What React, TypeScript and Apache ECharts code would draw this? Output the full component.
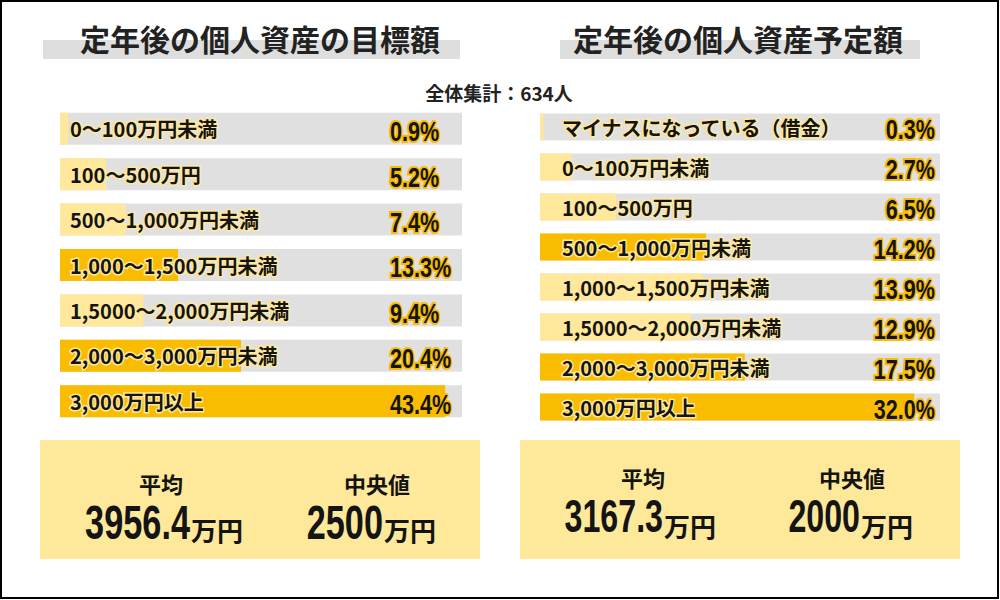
import React, { useEffect, useRef } from "react";
import * as echarts from "echarts";

const leftTitle = "定年後の個人資産の目標額";
const rightTitle = "定年後の個人資産予定額";
const totalLabel = "全体集計：634人";

const leftCategories = [
  "0～100万円未満",
  "100～500万円",
  "500～1,000万円未満",
  "1,000～1,500万円未満",
  "1,5000～2,000万円未満",
  "2,000～3,000万円未満",
  "3,000万円以上",
];
const leftValues = [0.9, 5.2, 7.4, 13.3, 9.4, 20.4, 43.4];

const rightCategories = [
  "マイナスになっている（借金）",
  "0～100万円未満",
  "100～500万円",
  "500～1,000万円未満",
  "1,000～1,500万円未満",
  "1,5000～2,000万円未満",
  "2,000～3,000万円未満",
  "3,000万円以上",
];
const rightValues = [0.3, 2.7, 6.5, 14.2, 13.9, 12.9, 17.5, 32.0];

const summaryLabels = ["平均", "中央値"];
const leftSummary = ["3956.4", "2500"];
const rightSummary = ["3167.3", "2000"];
const unitLabel = "万円";

const DARK = "#F9BC00";
const LIGHT = "#FFE89C";
const GRAY = "#E0E0E0";
const BOX = "#FEE99A";
const INK = "#141414";
const CJK = "'Noto Sans CJK JP', 'Noto Sans', sans-serif";
const NUMF = "'Liberation Sans', Arial, sans-serif";

function colorize(values: number[]) {
  const sorted = [...values].sort((a, b) => b - a);
  const threshold = sorted[2];
  return values.map((v) => ({
    value: v,
    itemStyle: { color: v >= threshold ? DARK : LIGHT },
  }));
}

function bigNumber(x: number, y: number, num: string, size: number, sx: number) {
  return {
    type: "text",
    x,
    y,
    scaleX: sx,
    style: {
      text: num,
      align: "right",
      verticalAlign: "middle",
      font: `bold ${size}px ${NUMF}`,
      fill: INK,
    },
  };
}

export default function App() {
  const ref = useRef<HTMLDivElement>(null);
  useEffect(() => {
    document.body.style.margin = "0";
    if (!ref.current) return;
    const chart = echarts.init(ref.current, null, { renderer: "svg" });

    const makeYAxis = (gridIndex: number, data: string[], margin: number) => ({
      type: "category",
      gridIndex,
      data,
      inverse: true,
      z: 10,
      axisLine: { show: false },
      axisTick: { show: false },
      axisLabel: {
        inside: true,
        margin,
        align: "left",
        fontSize: 20,
        fontWeight: "bold",
        fontFamily: CJK,
        color: INK,
        textBorderColor: LIGHT,
        textBorderWidth: 3,
      },
    });

    const pctSeries = (idx: number, values: number[], dx: number, align: string) => ({
      type: "custom",
      xAxisIndex: idx,
      yAxisIndex: idx,
      z: 5,
      encode: { x: 0, y: 1 },
      data: values.map((v, i) => [v, i]),
      renderItem: (params: any, api: any) => {
        const pt = api.coord([0, api.value(1)]);
        const txt = `${Number(api.value(0)).toFixed(1)}%`;
        const base = {
          text: txt,
          align,
          verticalAlign: "middle",
          font: `bold 27px ${NUMF}`,
        };
        return {
          type: "group",
          x: pt[0] + dx,
          y: pt[1] + 3,
          scaleX: 0.8,
          children: [
            {
              type: "text",
              style: { ...base, fill: DARK, stroke: DARK, lineWidth: 4, lineJoin: "round" },
            },
            { type: "text", style: { ...base, fill: INK } },
          ],
        };
      },
    });

    const summaryGraphics = (
      boxX: number,
      centers: number[],
      junctions: number[],
      labelY: number,
      numY: number,
      unitY: number,
      values: string[],
      numSize: number
    ) => {
      const els: any[] = [
        {
          type: "rect",
          shape: { x: boxX, y: 440, width: 440, height: 119 },
          style: { fill: BOX },
          z: 1,
        },
      ];
      summaryLabels.forEach((lab, i) => {
        els.push({
          type: "text",
          x: centers[i],
          y: labelY,
          z: 2,
          style: {
            text: lab,
            align: "center",
            verticalAlign: "middle",
            font: `bold 22px ${CJK}`,
            fill: INK,
          },
        });
        els.push({ ...bigNumber(junctions[i], numY, values[i], numSize, 0.7), z: 2 });
        els.push({
          type: "text",
          x: junctions[i] + 1,
          y: unitY,
          z: 2,
          style: {
            text: unitLabel,
            align: "left",
            verticalAlign: "middle",
            font: `bold 26px ${CJK}`,
            fill: INK,
          },
        });
      });
      return els;
    };

    const option: any = {
      animation: false,
      backgroundColor: "#ffffff",
      grid: [
        { left: 60, top: 106, width: 402, height: 318 },
        { left: 540, top: 107, width: 400, height: 320 },
      ],
      xAxis: [
        { type: "value", gridIndex: 0, min: 0, max: 45.3, show: false },
        { type: "value", gridIndex: 1, min: 0, max: 34.2, show: false },
      ],
      yAxis: [makeYAxis(0, leftCategories, 10), makeYAxis(1, rightCategories, 22)],
      series: [
        {
          type: "bar",
          xAxisIndex: 0,
          yAxisIndex: 0,
          barWidth: 32,
          showBackground: true,
          backgroundStyle: { color: GRAY },
          data: colorize(leftValues),
        },
        {
          type: "bar",
          xAxisIndex: 1,
          yAxisIndex: 1,
          barWidth: 27,
          showBackground: true,
          backgroundStyle: { color: GRAY },
          data: colorize(rightValues),
        },
        pctSeries(0, leftValues, 330, "left"),
        pctSeries(1, rightValues, 395, "right"),
      ],
      graphic: [
        {
          type: "rect",
          shape: { x: 1, y: 1, width: 997, height: 597 },
          style: { fill: "none", stroke: "#000", lineWidth: 2 },
          z: 0,
        },
        {
          type: "rect",
          shape: { x: 43, y: 40, width: 417, height: 19 },
          style: { fill: "#DEDEDE" },
          z: 1,
        },
        {
          type: "rect",
          shape: { x: 560, y: 40, width: 360, height: 19 },
          style: { fill: "#DEDEDE" },
          z: 1,
        },
        {
          type: "text",
          x: 260,
          y: 38,
          z: 2,
          style: {
            text: leftTitle,
            align: "center",
            verticalAlign: "middle",
            font: `bold 30px ${CJK}`,
            fill: "#222",
          },
        },
        {
          type: "text",
          x: 738,
          y: 38,
          z: 2,
          style: {
            text: rightTitle,
            align: "center",
            verticalAlign: "middle",
            font: `bold 30px ${CJK}`,
            fill: "#222",
          },
        },
        {
          type: "text",
          x: 499,
          y: 92,
          z: 2,
          style: {
            text: totalLabel,
            align: "center",
            verticalAlign: "middle",
            font: `bold 19px ${CJK}`,
            fill: "#222",
          },
        },
        ...summaryGraphics(40, [161, 377], [190, 383], 483, 522, 529, leftSummary, 49),
        ...summaryGraphics(520, [643, 852], [663, 860], 477, 516, 525, rightSummary, 46),
      ],
    };
    chart.setOption(option);
    return () => chart.dispose();
  }, []);
  return <div ref={ref} style={{ width: 1000, height: 600 }} />;
}
